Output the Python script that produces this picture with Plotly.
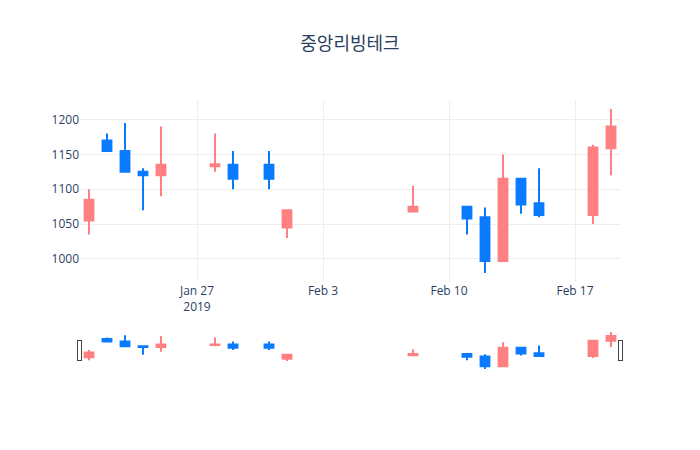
import plotly.graph_objects as go

dates = ["2019-01-21", "2019-01-22", "2019-01-23", "2019-01-24", "2019-01-25",
         "2019-01-28", "2019-01-29", "2019-01-31", "2019-02-01",
         "2019-02-08", "2019-02-11", "2019-02-12", "2019-02-13", "2019-02-14",
         "2019-02-15", "2019-02-18", "2019-02-19"]
opens  = [1055, 1170, 1155, 1125, 1120, 1133, 1135, 1135, 1045, 1068, 1075, 1060, 997, 1115, 1080, 1063, 1159]
highs  = [1100, 1180, 1195, 1130, 1190, 1180, 1155, 1155, 1070, 1105, 1075, 1074, 1150, 1115, 1130, 1164, 1215]
lows   = [1035, 1155, 1125, 1070, 1090, 1125, 1100, 1100, 1030, 1068, 1035, 980, 997, 1065, 1060, 1050, 1120]
closes = [1085, 1155, 1125, 1120, 1135, 1136, 1115, 1115, 1070, 1075, 1058, 997, 1115, 1078, 1063, 1160, 1190]

fig = go.Figure(go.Candlestick(
    x=dates, open=opens, high=highs, low=lows, close=closes,
    increasing=dict(line=dict(color="#ff8080"), fillcolor="#ff8080"),
    decreasing=dict(line=dict(color="#0a7bff"), fillcolor="#0a7bff"),
))
fig.update_layout(
    template="plotly_white",
    width=700, height=450,
    title=dict(text="중앙리빙테크", x=0.5, xanchor="center",
               font=dict(size=18, family="Noto Sans CJK KR, Open Sans, sans-serif")),
    showlegend=False,
    margin=dict(l=80, r=80, t=100, b=80),
)
fig.update_xaxes(gridcolor="#eeeeee")
fig.update_yaxes(gridcolor="#eeeeee")
fig.write_html("out.html")
